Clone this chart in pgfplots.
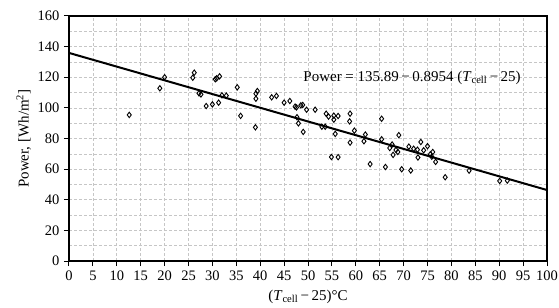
\documentclass[border=0pt]{standalone}
\usepackage{pgfplots}
\pgfplotsset{compat=1.18}
\usepackage{fontspec}
\setmainfont{Liberation Serif}
\begin{document}
\begin{tikzpicture}
\useasboundingbox (-69bp,-47bp) rectangle (490bp,261bp);
\begin{axis}[
  at={(0,0)}, anchor=south west,
  scale only axis,
  width=478bp, height=245bp,
  xmin=0, xmax=100, ymin=0, ymax=160,
  xtick={0,5,...,100}, ytick={0,20,...,160},
  minor ytick={10,30,...,150},
  grid=both,
  major grid style={gray!45, dash pattern=on 3bp off 2bp, line width=0.6bp},
  minor grid style={gray!45, dash pattern=on 3bp off 2bp, line width=0.6bp},
  minor tick length=0pt,
  major tick length=5bp,
  tick align=outside,
  xtick pos=bottom, ytick pos=left,
  tick style={black, line width=1bp},
  axis line style={line width=1.6bp},
  /pgf/number format/assume math mode=true,
  tick label style={font=\fontsize{14.5bp}{17bp}\selectfont},
  yticklabel style={xshift=-1bp},
  xticklabel style={yshift=-1bp},
  label style={font=\fontsize{15bp}{18bp}\selectfont},
  xlabel style={yshift=-3bp},
  xlabel={(\textit{T}\textsubscript{cell}\,−\,25)°C},
  ylabel={Power, [Wh/m\textsuperscript{2}]},
  clip=false,
]
\addplot[only marks, mark=diamond, mark size=2.7bp, mark options={black, line width=0.9bp, fill=white}] coordinates {
(12.6,95.4) (19.0,112.8) (20.0,120.0) (25.9,119.7) (26.2,123.0)
(27.2,109.5) (27.6,108.8) (28.7,101.2) (30.0,102.3) (30.6,118.7)
(30.9,119.3) (31.3,103.4) (31.5,120.6) (32.0,108.2) (32.9,108.0)
(35.2,113.4) (35.9,94.8) (39.0,87.3) (39.1,106.0) (39.1,109.3)
(39.4,111.0) (42.4,106.9) (43.4,107.8) (45.0,103.4) (46.2,104.5)
(47.3,100.8) (47.6,100.3) (47.7,93.9) (48.0,89.9) (48.5,101.7)
(48.9,101.9) (49.0,84.3) (49.7,98.8) (51.5,98.8) (52.9,87.7)
(53.6,87.7) (53.8,96.2) (54.3,94.3) (54.9,67.9) (55.4,94.9)
(55.4,92.3) (55.7,83.0) (56.3,94.7) (56.3,67.8) (58.7,91.2)
(58.8,96.2) (58.8,77.3) (59.7,85.1) (61.7,78.2) (62.0,82.6)
(63.0,63.3) (65.4,92.9) (65.4,79.5) (66.2,61.4) (67.1,73.8)
(67.6,76.1) (67.8,69.3) (68.4,72.5) (68.8,71.2) (69.0,82.2)
(69.6,59.9) (71.1,74.7) (71.5,59.1) (72.1,73.3) (72.9,72.7)
(73.0,67.6) (73.6,77.7) (74.2,72.3) (75.0,75.0) (75.6,69.7)
(75.9,68.1) (76.1,71.2) (76.7,64.7) (78.7,54.7) (83.7,59.0)
(90.1,52.3) (91.7,52.5)
};
\addplot[black, line width=2bp] coordinates {(0,135.89) (100,46.35)};
\node[anchor=west, font=\fontsize{15bp}{18bp}\selectfont, inner sep=0pt] at (axis cs:49,119.5) {Power = 135.89\,−\,0.8954 (\textit{T}\textsubscript{cell}\,−\,25)};
\end{axis}
\end{tikzpicture}
\end{document}
